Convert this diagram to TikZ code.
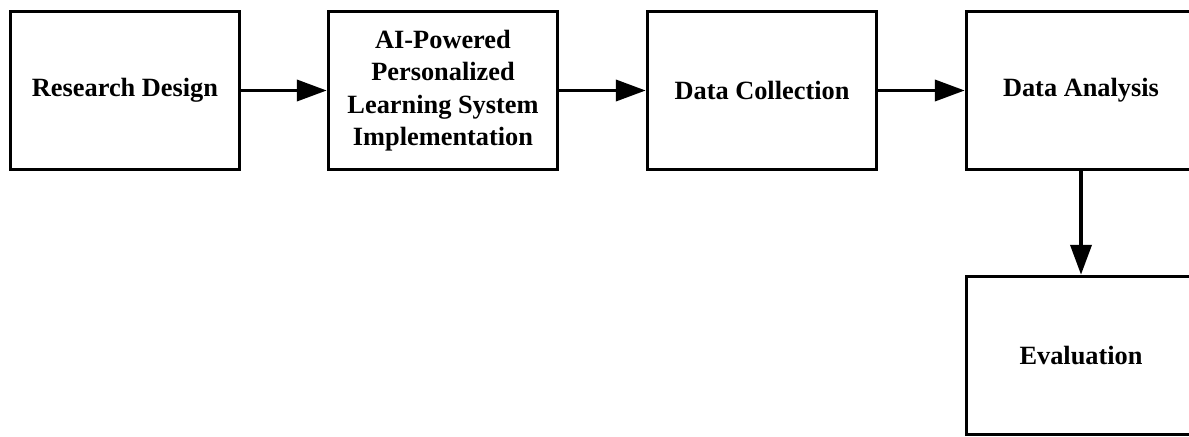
\documentclass[tikz,border=0pt]{standalone}
\usepackage{fontspec}
\setmainfont{Liberation Serif}
\usetikzlibrary{arrows.meta}
\tikzset{
  stage/.style={draw,line width=2pt,minimum width=4.58cm,minimum height=3.16cm,
    inner sep=2pt,align=center,font=\bfseries\fontsize{15}{18.4}\selectfont},
  flow/.style={line width=2.2pt,-{Triangle[length=0.6cm,width=0.42cm]}}
}
\begin{document}
\begin{tikzpicture}[x=0.02cm,y=0.02cm]
  \useasboundingbox (0,0) rectangle (1189,-436);
  % top row of stages
  \node[stage] (design) at (125,-90.5) {Research Design};
  \node[stage] (system) at (443,-90.5) {AI-Powered\\Personalized\\Learning System\\Implementation};
  \node[stage] (collect) at (762,-90.5) {Data Collection};
  \node[stage] (analysis) at (1081,-90.5) {Data Analysis};
  % last stage below
  \node[stage] (eval) at (1081,-355.5) {Evaluation};
  % arrows
  \draw[flow] (design) -- (system);
  \draw[flow] (system) -- (collect);
  \draw[flow] (collect) -- (analysis);
  \draw[flow] (analysis) -- (eval);
\end{tikzpicture}
\end{document}
